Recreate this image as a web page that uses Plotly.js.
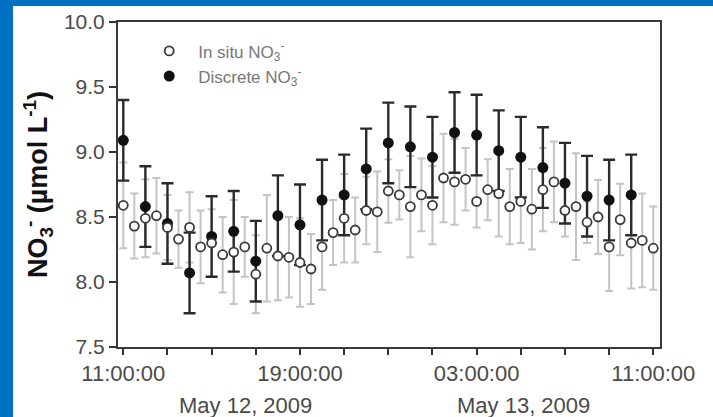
<!DOCTYPE html>
<html>
<head>
<meta charset="utf-8">
<script src="https://cdn.plot.ly/plotly-3.0.1.min.js"></script>
<style>
  html, body { margin: 0; padding: 0; background: #0070c0; width: 713px; height: 417px; overflow: hidden; }
  #chart { position: absolute; left: 13px; top: 6px; width: 700px; height: 411px; background: #ffffff; }
</style>
</head>
<body>
<div id="chart"></div>
<script>
// In situ NO3- (every 30 min)
var insituTimes = [
  "2009-05-12 11:00","2009-05-12 11:30","2009-05-12 12:00","2009-05-12 12:30","2009-05-12 13:00","2009-05-12 13:30",
  "2009-05-12 14:00","2009-05-12 14:30","2009-05-12 15:00","2009-05-12 15:30","2009-05-12 16:00","2009-05-12 16:30",
  "2009-05-12 17:00","2009-05-12 17:30","2009-05-12 18:00","2009-05-12 18:30","2009-05-12 19:00","2009-05-12 19:30",
  "2009-05-12 20:00","2009-05-12 20:30","2009-05-12 21:00","2009-05-12 21:30","2009-05-12 22:00","2009-05-12 22:30",
  "2009-05-12 23:00","2009-05-12 23:30","2009-05-13 00:00","2009-05-13 00:30","2009-05-13 01:00","2009-05-13 01:30",
  "2009-05-13 02:00","2009-05-13 02:30","2009-05-13 03:00","2009-05-13 03:30","2009-05-13 04:00","2009-05-13 04:30",
  "2009-05-13 05:00","2009-05-13 05:30","2009-05-13 06:00","2009-05-13 06:30","2009-05-13 07:00","2009-05-13 07:30",
  "2009-05-13 08:00","2009-05-13 08:30","2009-05-13 09:00","2009-05-13 09:30","2009-05-13 10:00","2009-05-13 10:30",
  "2009-05-13 11:00"
];
var insituValues = [
  8.59,8.43,8.49,8.51,8.42,8.33,8.42,8.27,8.30,8.21,8.23,8.27,
  8.06,8.26,8.20,8.19,8.15,8.10,8.27,8.38,8.49,8.40,8.55,8.54,
  8.70,8.67,8.58,8.67,8.59,8.80,8.77,8.79,8.62,8.71,8.68,8.58,
  8.62,8.56,8.71,8.77,8.55,8.58,8.46,8.50,8.27,8.48,8.30,8.32,
  8.26
];
var insituErrors = [
  0.33,0.25,0.30,0.29,0.25,0.22,0.27,0.28,0.26,0.29,0.40,0.23,
  0.30,0.41,0.34,0.31,0.34,0.27,0.33,0.25,0.34,0.25,0.26,0.31,
  0.245,0.19,0.39,0.28,0.30,0.34,0.33,0.24,0.20,0.235,0.33,0.29,
  0.32,0.31,0.32,0.31,0.20,0.41,0.16,0.285,0.34,0.275,0.35,0.36,
  0.32
];

// Discrete NO3- (hourly)
var discreteTimes = [
  "2009-05-12 11:00","2009-05-12 12:00","2009-05-12 13:00","2009-05-12 14:00","2009-05-12 15:00","2009-05-12 16:00",
  "2009-05-12 17:00","2009-05-12 18:00","2009-05-12 19:00","2009-05-12 20:00","2009-05-12 21:00","2009-05-12 22:00",
  "2009-05-12 23:00","2009-05-13 00:00","2009-05-13 01:00","2009-05-13 02:00","2009-05-13 03:00","2009-05-13 04:00",
  "2009-05-13 05:00","2009-05-13 06:00","2009-05-13 07:00","2009-05-13 08:00","2009-05-13 09:00","2009-05-13 10:00"
];
var discreteValues = [
  9.09,8.58,8.45,8.07,8.35,8.39,8.16,8.51,8.44,8.63,8.67,8.87,
  9.07,9.04,8.96,9.15,9.13,9.01,8.96,8.88,8.76,8.66,8.63,8.67
];
var discreteErrors = [
  0.31,0.31,0.31,0.31,0.31,0.31,0.31,0.31,0.31,0.31,0.31,0.31,
  0.31,0.31,0.31,0.31,0.31,0.31,0.31,0.31,0.31,0.31,0.31,0.31
];

// Axis ticks
var xTickVals = [
  "2009-05-12 11:00","2009-05-12 13:00","2009-05-12 15:00","2009-05-12 17:00","2009-05-12 19:00","2009-05-12 21:00",
  "2009-05-12 23:00","2009-05-13 01:00","2009-05-13 03:00","2009-05-13 05:00","2009-05-13 07:00","2009-05-13 09:00",
  "2009-05-13 11:00"
];
var xTickText = ["11:00:00","","","","19:00:00","","","","03:00:00","","","","11:00:00"];
var yTickVals = [7.5, 8.0, 8.5, 9.0, 9.5, 10.0];
var yTickText = ["7.5","8.0","8.5","9.0","9.5","10.0"];
var dateLabels = ["May 12, 2009", "May 13, 2009"];

var FONT = "Liberation Sans, Arial, Helvetica, sans-serif";

var traces = [
  {
    type: "scatter", mode: "markers",
    x: insituTimes, y: insituValues,
    marker: { size: 9, color: "rgba(0,0,0,0)" },
    error_y: { type: "data", array: insituErrors, visible: true, color: "#c4c4c4", thickness: 2, width: 4 },
    showlegend: false, hoverinfo: "skip"
  },
  {
    type: "scatter", mode: "markers",
    name: "Discrete NO<sub>3</sub><sup>-</sup>",
    x: discreteTimes, y: discreteValues,
    marker: { size: 11, color: "#111111" },
    error_y: { type: "data", array: discreteErrors, visible: true, color: "#2a2a2a", thickness: 2.4, width: 6 },
    legendrank: 2
  },
  {
    type: "scatter", mode: "markers",
    name: "In situ NO<sub>3</sub><sup>-</sup>",
    x: insituTimes, y: insituValues,
    marker: { size: 9, symbol: "circle", color: "#ffffff", line: { color: "#3a3a3a", width: 1.8 } },
    legendrank: 1
  }
];

var layout = {
  width: 700, height: 411,
  margin: { l: 105, r: 53, t: 16, b: 70 },
  paper_bgcolor: "#ffffff", plot_bgcolor: "#ffffff",
  font: { family: FONT, color: "#4a4a4a" },
  showlegend: true,
  legend: {
    x: 0.041, y: 0.965, xanchor: "left", yanchor: "top",
    bgcolor: "rgba(255,255,255,0)",
    font: { family: FONT, size: 17, color: "#777777" },
    itemwidth: 48, traceorder: "normal"
  },
  xaxis: {
    type: "date",
    range: ["2009-05-12 10:45:36", "2009-05-13 11:18:12"],
    tickmode: "array", tickvals: xTickVals, ticktext: xTickText,
    ticks: "outside", ticklen: 6, tickwidth: 2, tickcolor: "#333333",
    tickfont: { family: FONT, size: 22, color: "#4a4a4a" },
    showgrid: false, zeroline: false,
    showline: true, linecolor: "#3a3a3a", linewidth: 2, mirror: true
  },
  yaxis: {
    range: [7.5, 10.0],
    tickmode: "array", tickvals: yTickVals, ticktext: yTickText,
    ticks: "outside", ticklen: 7, tickwidth: 2, tickcolor: "#333333",
    tickfont: { family: FONT, size: 21, color: "#4a4a4a" },
    showgrid: false, zeroline: false,
    showline: true, linecolor: "#3a3a3a", linewidth: 2, mirror: true,
    title: {
      text: "NO<sub>3</sub><sup>-</sup> (µmol L<sup>-1</sup>)",
      font: { family: FONT, size: 27, color: "#111111", weight: "bold" },
      standoff: 8
    }
  },
  annotations: [
    { text: dateLabels[0], xref: "paper", yref: "paper", x: 0.236, y: -0.18, xanchor: "center", yanchor: "middle",
      showarrow: false, font: { family: FONT, size: 22, color: "#4a4a4a" } },
    { text: dateLabels[1], xref: "paper", yref: "paper", x: 0.749, y: -0.18, xanchor: "center", yanchor: "middle",
      showarrow: false, font: { family: FONT, size: 22, color: "#4a4a4a" } }
  ]
};

Plotly.newPlot("chart", traces, layout, { staticPlot: true, displayModeBar: false });
</script>
</body>
</html>
